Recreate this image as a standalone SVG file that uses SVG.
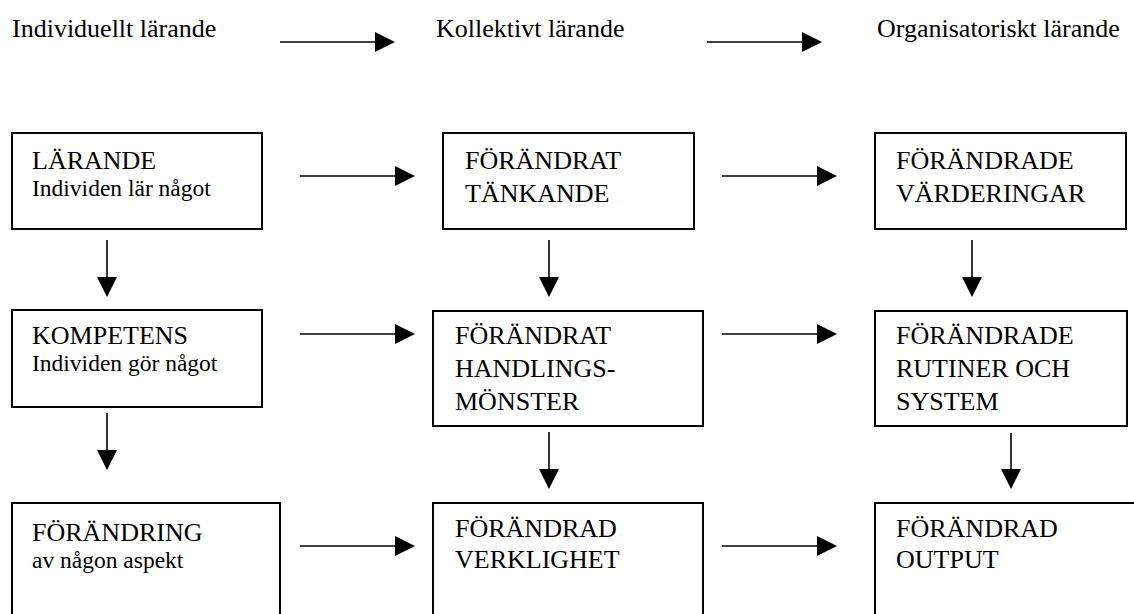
<svg xmlns="http://www.w3.org/2000/svg" width="1134" height="614" viewBox="0 0 1134 614">
  <style>
    .box { fill: #ffffff; stroke: #000000; stroke-width: 2; }
    .arrow { stroke: #000000; stroke-width: 1.6; fill: none; marker-end: url(#head); }
  </style>
  <defs>
    <marker id="head" viewBox="0 0 20 20" refX="10" refY="10" markerWidth="20" markerHeight="20" markerUnits="userSpaceOnUse" orient="auto">
      <path d="M0,0 L20,10 L0,20 Z" fill="#000000"/>
    </marker>
  </defs>
  <rect width="1134" height="614" fill="#ffffff"/>

  <g font-family="Liberation Serif, Times New Roman, serif" font-size="26" fill="#000000">
    <!-- column headings -->
    <g id="headings">
      <text x="12" y="37">Individuellt lärande</text>
      <text x="436" y="37">Kollektivt lärande</text>
      <text x="877" y="37">Organisatoriskt lärande</text>
    </g>

    <!-- row 1 -->
    <g id="larande">
      <rect class="box" x="12" y="133" width="250" height="96"/>
      <text x="32" y="169">LÄRANDE</text>
      <text x="32" y="196" font-size="23.5">Individen lär något</text>
    </g>
    <g id="forandrat-tankande">
      <rect class="box" x="443" y="133" width="251" height="96"/>
      <text x="465" y="169">FÖRÄNDRAT</text>
      <text x="465" y="202">TÄNKANDE</text>
    </g>
    <g id="forandrade-varderingar">
      <rect class="box" x="875" y="133" width="251" height="96"/>
      <text x="896" y="169">FÖRÄNDRADE</text>
      <text x="896" y="202">VÄRDERINGAR</text>
    </g>

    <!-- row 2 -->
    <g id="kompetens">
      <rect class="box" x="12" y="310" width="250" height="97"/>
      <text x="32" y="344">KOMPETENS</text>
      <text x="32" y="371" font-size="23.5">Individen gör något</text>
    </g>
    <g id="forandrat-handlingsmonster">
      <rect class="box" x="433" y="311" width="270" height="115"/>
      <text x="455" y="344">FÖRÄNDRAT</text>
      <text x="455" y="377">HANDLINGS-</text>
      <text x="455" y="410">MÖNSTER</text>
    </g>
    <g id="forandrade-rutiner">
      <rect class="box" x="875" y="311" width="252" height="115"/>
      <text x="896" y="344">FÖRÄNDRADE</text>
      <text x="896" y="377">RUTINER OCH</text>
      <text x="896" y="410">SYSTEM</text>
    </g>

    <!-- row 3 (boxes run past the lower edge) -->
    <g id="forandring">
      <rect class="box" x="12" y="503" width="268" height="140"/>
      <text x="32" y="541">FÖRÄNDRING</text>
      <text x="32" y="568" font-size="23.5">av någon aspekt</text>
    </g>
    <g id="forandrad-verklighet">
      <rect class="box" x="433" y="503" width="270" height="140"/>
      <text x="455" y="537">FÖRÄNDRAD</text>
      <text x="455" y="568">VERKLIGHET</text>
    </g>
    <g id="forandrad-output">
      <rect class="box" x="875" y="503" width="280" height="140"/>
      <text x="896" y="537">FÖRÄNDRAD</text>
      <text x="896" y="568">OUTPUT</text>
    </g>
  </g>

  <!-- connectors -->
  <g id="connectors">
    <line class="arrow" x1="280" y1="42" x2="385" y2="42"/>
    <line class="arrow" x1="707" y1="42" x2="812" y2="42"/>

    <line class="arrow" x1="300" y1="176" x2="405" y2="176"/>
    <line class="arrow" x1="722" y1="176" x2="827" y2="176"/>
    <line class="arrow" x1="300" y1="334" x2="405" y2="334"/>
    <line class="arrow" x1="722" y1="334" x2="827" y2="334"/>
    <line class="arrow" x1="300" y1="546" x2="405" y2="546"/>
    <line class="arrow" x1="722" y1="546" x2="827" y2="546"/>

    <line class="arrow" x1="107" y1="240" x2="107" y2="287"/>
    <line class="arrow" x1="107" y1="413" x2="107" y2="460"/>
    <line class="arrow" x1="549" y1="240" x2="549" y2="287"/>
    <line class="arrow" x1="549" y1="432" x2="549" y2="479"/>
    <line class="arrow" x1="972" y1="240" x2="972" y2="287"/>
    <line class="arrow" x1="1011" y1="433" x2="1011" y2="479"/>
  </g>
</svg>
